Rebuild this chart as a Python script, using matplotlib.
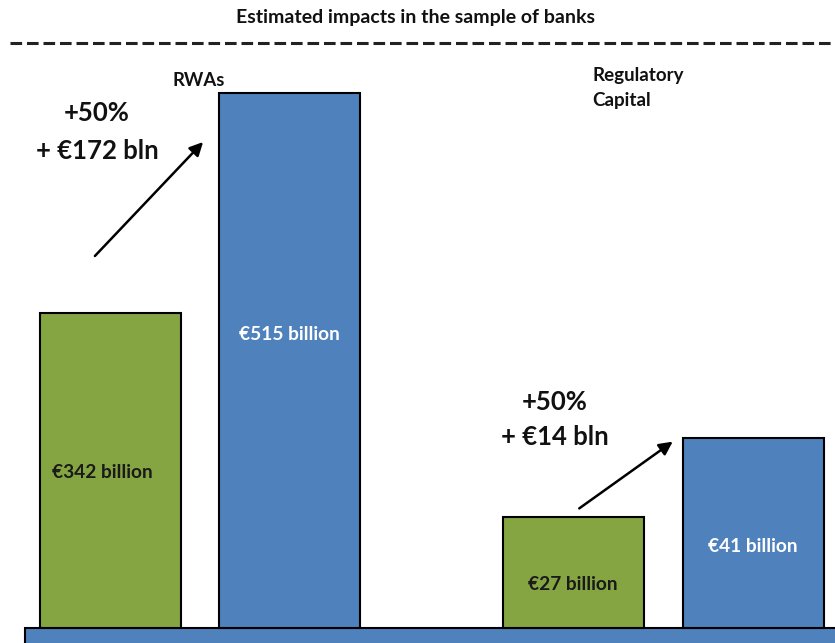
import matplotlib
matplotlib.use("Agg")
import matplotlib.pyplot as plt

# ---- data ----
groups = ["RWAs", "Regulatory\nCapital"]
before_values = [342, 27]          # € billion
after_values = [515, 41]           # € billion
increase_pct = ["+50%", "+50%"]
increase_abs = ["+ €172 bln", "+ €14 bln"]
# bar heights as drawn in the picture (illustrative, not to scale)
before_heights = [315, 111]
after_heights = [535, 190]
title = "Estimated impacts in the sample of banks"

GREEN = "#84A542"
BLUE = "#4F81BD"
FONT = ["Lato", "DejaVu Sans"]
plt.rcParams["font.family"] = FONT

fig = plt.figure(figsize=(8.35, 6.43), dpi=100)
ax = fig.add_axes([0, 0, 1, 1])
ax.set_xlim(0, 835)
ax.set_ylim(0, 643)
ax.axis("off")

base = 15
width = 141
before_x = [110.5, 573]
after_x = [289, 753]

# base strip
ax.add_patch(plt.Rectangle((25, -5), 820, base + 5, facecolor=BLUE,
                           edgecolor="black", lw=1.5, zorder=1))

ax.bar(before_x, before_heights, width=width, bottom=base, color=GREEN,
       edgecolor="black", lw=1.5, zorder=2)
ax.bar(after_x, after_heights, width=width, bottom=base, color=BLUE,
       edgecolor="black", lw=1.5, zorder=2)

# value labels
before_label_x = [102, 573]
before_label_y = [170, 59]
after_label_y = [308, 97]
for i in range(2):
    ax.text(before_label_x[i], before_label_y[i],
            f"€{before_values[i]} billion", ha="center", va="center",
            fontsize=13.8, fontweight="bold", color="#1a1a1a", zorder=3)
    ax.text(after_x[i], after_label_y[i], f"€{after_values[i]} billion",
            ha="center", va="center", fontsize=13.8, fontweight="bold",
            color="white", zorder=3)

# title and dashed line
ax.text(415, 626, title, ha="center", va="center", fontsize=14,
        fontweight="bold", color="#111111")
ax.plot([10, 835], [600, 600], ls=(0, (3.8, 1.6)), color="#222222", lw=2.2)

# group labels
ax.text(173, 563, groups[0], ha="left", va="center", fontsize=13.3,
        fontweight="bold", color="#111111")
ax.text(592, 555, groups[1], ha="left", va="center", fontsize=13.5,
        fontweight="bold", color="#111111", linespacing=1.6)

# increase annotations
ax.text(97, 530, increase_pct[0], ha="center", va="center", fontsize=18.5,
        fontweight="bold", color="#111111")
ax.text(97, 492, increase_abs[0], ha="center", va="center", fontsize=18.5,
        fontweight="bold", color="#111111")
ax.annotate("", xy=(205, 503), xytext=(93, 385),
            arrowprops=dict(arrowstyle="-|>", color="black", lw=1.8,
                            mutation_scale=20))

ax.text(555, 241, increase_pct[1], ha="center", va="center", fontsize=18.5,
        fontweight="bold", color="#111111")
ax.text(555, 206, increase_abs[1], ha="center", va="center", fontsize=18.5,
        fontweight="bold", color="#111111")
ax.annotate("", xy=(675, 203), xytext=(577, 133),
            arrowprops=dict(arrowstyle="-|>", color="black", lw=1.8,
                            mutation_scale=20))

fig.savefig("out.png", dpi=100)
